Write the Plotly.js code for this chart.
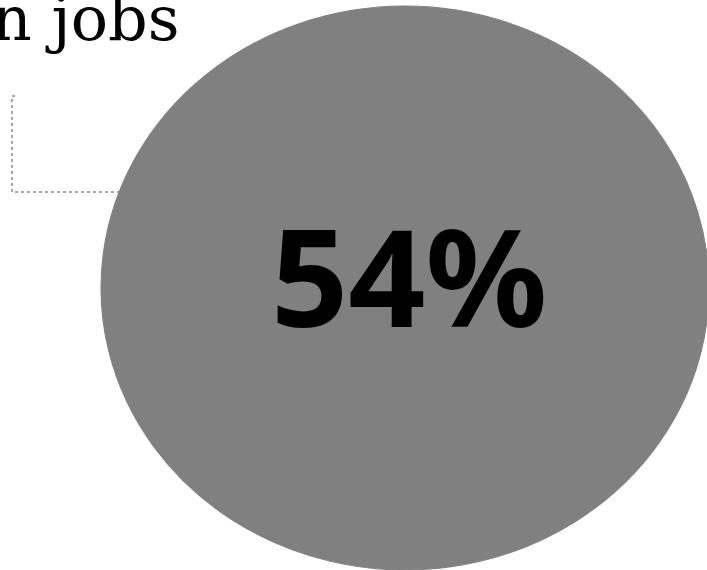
<!DOCTYPE html>
<html>
<head>
<meta charset="utf-8">
<script src="https://cdn.plot.ly/plotly-3.0.1.min.js"></script>
<style>html,body{margin:0;padding:0;background:#fff;}#chart{width:707px;height:570px;}</style>
</head>
<body>
<div id="chart"></div>
<script>
// Data
const sliceLabels = ['Share', 'Rest'];
const sliceValues = [54, 46];
const sliceColors = ['#808080', '#808080'];
const titleText = 'in jobs';

const W = 707, H = 570;
const domX = [0.174, 0.9717];
const domY = [0.0, 0.9895];
const stretchX = 1.078;

const trace = {
  type: 'pie',
  labels: sliceLabels,
  values: sliceValues,
  sort: false,
  direction: 'clockwise',
  rotation: 0,
  textinfo: 'none',
  hoverinfo: 'none',
  showlegend: false,
  marker: {colors: sliceColors, line: {color: '#808080', width: 1}},
  domain: {x: domX, y: domY}
};

const layout = {
  width: W, height: H,
  margin: {l: 0, r: 0, t: 0, b: 0},
  paper_bgcolor: '#ffffff',
  showlegend: false,
  annotations: [
    {
      text: '<b>' + sliceValues[0] + '%</b>',
      xref: 'paper', yref: 'paper',
      x: 409 / W, y: 1 - 275 / H,
      xanchor: 'center', yanchor: 'middle',
      showarrow: false,
      font: {family: 'Noto Sans', size: 135, color: '#000000', weight: 700}
    },
    {
      text: titleText,
      xref: 'paper', yref: 'paper',
      x: 182 / W, y: 1 - 41 / H,
      xanchor: 'right', yanchor: 'bottom',
      yshift: -16,
      showarrow: false,
      font: {family: 'DejaVu Serif', size: 62, color: '#000000'}
    }
  ],
  shapes: [
    {
      type: 'path',
      xref: 'paper', yref: 'paper',
      path: 'M ' + (15 / W) + ' ' + (1 - 96 / H) + ' L ' + (12 / W) + ' ' + (1 - 96 / H) +
            ' L ' + (12 / W) + ' ' + (1 - 192 / H) + ' L ' + (120 / W) + ' ' + (1 - 192 / H),
      line: {color: '#a6a6a6', width: 2, dash: 'dot'},
      layer: 'below'
    }
  ]
};

Plotly.newPlot('chart', [trace], layout, {displayModeBar: false, staticPlot: true}).then(function () {
  const cx = W * (domX[0] + domX[1]) / 2;
  document.querySelectorAll('.pielayer path.surface').forEach(function (p) {
    const prev = p.getAttribute('transform') || '';
    p.setAttribute('transform', 'translate(' + cx + ',0) scale(' + stretchX + ',1) translate(' + (-cx) + ',0) ' + prev);
  });
});
</script>
</body>
</html>
